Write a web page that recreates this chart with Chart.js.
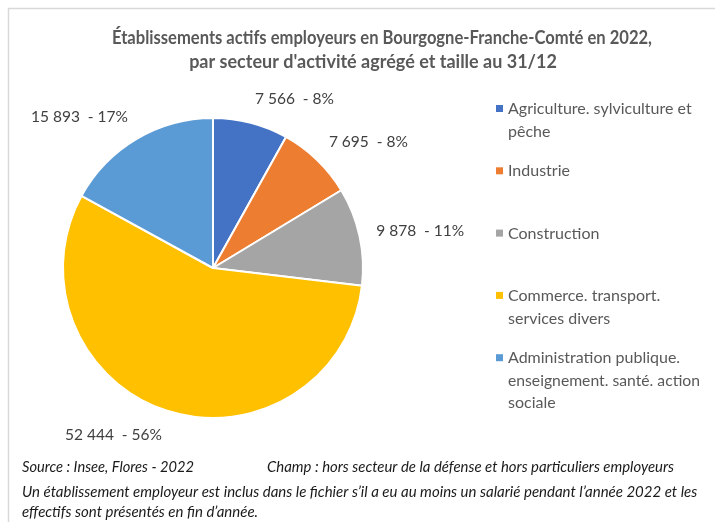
<!DOCTYPE html>
<html>
<head>
<meta charset="utf-8">
<script src="https://cdn.jsdelivr.net/npm/chart.js@4/dist/chart.umd.min.js"></script>
<style>
  html, body { margin: 0; padding: 0; background: #fff; }
  #wrap { width: 715px; height: 528px; }
</style>
</head>
<body>
<div id="wrap"><canvas id="pieChart" width="715" height="528"></canvas></div>
<script>
// Data
const categories = [
  'Agriculture. sylviculture et pêche',
  'Industrie',
  'Construction',
  'Commerce. transport. services divers',
  'Administration publique. enseignement. santé. action sociale'
];
const legendLines = [
  ['Agriculture. sylviculture et', 'pêche'],
  ['Industrie'],
  ['Construction'],
  ['Commerce. transport.', 'services divers'],
  ['Administration publique.', 'enseignement. santé. action', 'sociale']
];
const values = [7566, 7695, 9878, 52444, 15893];
const colors = ['#4472C4', '#ED7D31', '#A5A5A5', '#FFC000', '#5B9BD5'];
const titleLines = [
  'Établissements actifs employeurs en Bourgogne-Franche-Comté en 2022,',
  'par secteur d\'activité agrégé et taille au 31/12'
];
const sourceText = 'Source : Insee, Flores - 2022';
const champText = 'Champ : hors secteur de la défense et hors particuliers employeurs';
const noteLines = [
  'Un établissement employeur est inclus dans le fichier s\u2019il a eu au moins un salarié pendant l\u2019année 2022 et les',
  'effectifs sont présentés en fin d\u2019année.'
];

const FONT = 'Lato, "Open Sans", sans-serif';
const total = values.reduce((s, v) => s + v, 0);

// "7 566  - 8%"
function formatLabel(v) {
  const num = String(v).replace(/\B(?=(\d{3})+(?!\d))/g, ' ');
  return num + '  - ' + Math.round(v / total * 100) + '%';
}

// Light frame, title, legend and footnotes
const decorPlugin = {
  id: 'decor',
  beforeDraw(chart) {
    const ctx = chart.ctx;
    ctx.save();
    ctx.fillStyle = '#fff';
    ctx.fillRect(0, 0, chart.width, chart.height);
    ctx.strokeStyle = '#D9D9D9';
    ctx.lineWidth = 1.5;
    ctx.beginPath();
    ctx.moveTo(715, 8.5);
    ctx.lineTo(8.5, 8.5);
    ctx.lineTo(8.5, 522);
    ctx.stroke();
    ctx.restore();
  },
  afterDraw(chart) {
    const ctx = chart.ctx;
    ctx.save();

    // title
    ctx.fillStyle = '#595959';
    ctx.font = 'bold 18px ' + FONT;
    ctx.textAlign = 'center';
    ctx.textBaseline = 'middle';
    ctx.fillText(titleLines[0], 382, 38, 540);
    ctx.fillText(titleLines[1], 373, 62, 370);

    // legend
    ctx.font = '16px ' + FONT;
    ctx.textAlign = 'left';
    legendLines.forEach((lines, i) => {
      const y0 = 109 + i * 62.3;
      ctx.fillStyle = colors[i];
      ctx.fillRect(496, y0 - 4, 7, 7);
      ctx.fillStyle = '#595959';
      lines.forEach((line, j) => {
        ctx.fillText(line, 508, y0 + j * 22.5, 192);
      });
    });

    // footnotes
    ctx.fillStyle = '#1a1a1a';
    ctx.font = 'italic 15px ' + FONT;
    ctx.fillText(sourceText, 22, 467, 172);
    ctx.fillText(champText, 267, 467, 407);
    ctx.fillText(noteLines[0], 22, 492, 686);
    ctx.fillText(noteLines[1], 22, 512, 240);
    ctx.restore();
  }
};

// Outside-end data labels placed from each arc's mid angle
const sliceLabelPlugin = {
  id: 'sliceLabels',
  afterDatasetsDraw(chart) {
    const ctx = chart.ctx;
    const meta = chart.getDatasetMeta(0);
    ctx.save();
    ctx.font = '15.5px ' + FONT;
    ctx.fillStyle = '#404040';
    ctx.textAlign = 'center';
    ctx.textBaseline = 'middle';
    meta.data.forEach((arc, i) => {
      const mid = (arc.startAngle + arc.endAngle) / 2;
      const dx = Math.cos(mid);
      const dy = Math.sin(mid);
      const r = arc.outerRadius + 17;
      const text = formatLabel(values[i]);
      const w = ctx.measureText(text).width;
      const ax = arc.x + dx * r;
      const ay = arc.y + dy * r;
      const cx = ax + Math.sign(dx) * w / 2;
      const cy = ay + dy * 8;
      ctx.fillText(text, cx, cy);
    });
    ctx.restore();
  }
};

new Chart(document.getElementById('pieChart'), {
  type: 'pie',
  data: {
    labels: categories,
    datasets: [{
      data: values,
      backgroundColor: colors,
      borderColor: '#fff',
      borderWidth: 2
    }]
  },
  options: {
    responsive: false,
    animation: false,
    layout: {
      padding: { left: 62, top: 117, right: 351, bottom: 109 }
    },
    plugins: {
      legend: { display: false },
      title: { display: false },
      tooltip: { enabled: false }
    }
  },
  plugins: [decorPlugin, sliceLabelPlugin]
});
</script>
</body>
</html>
